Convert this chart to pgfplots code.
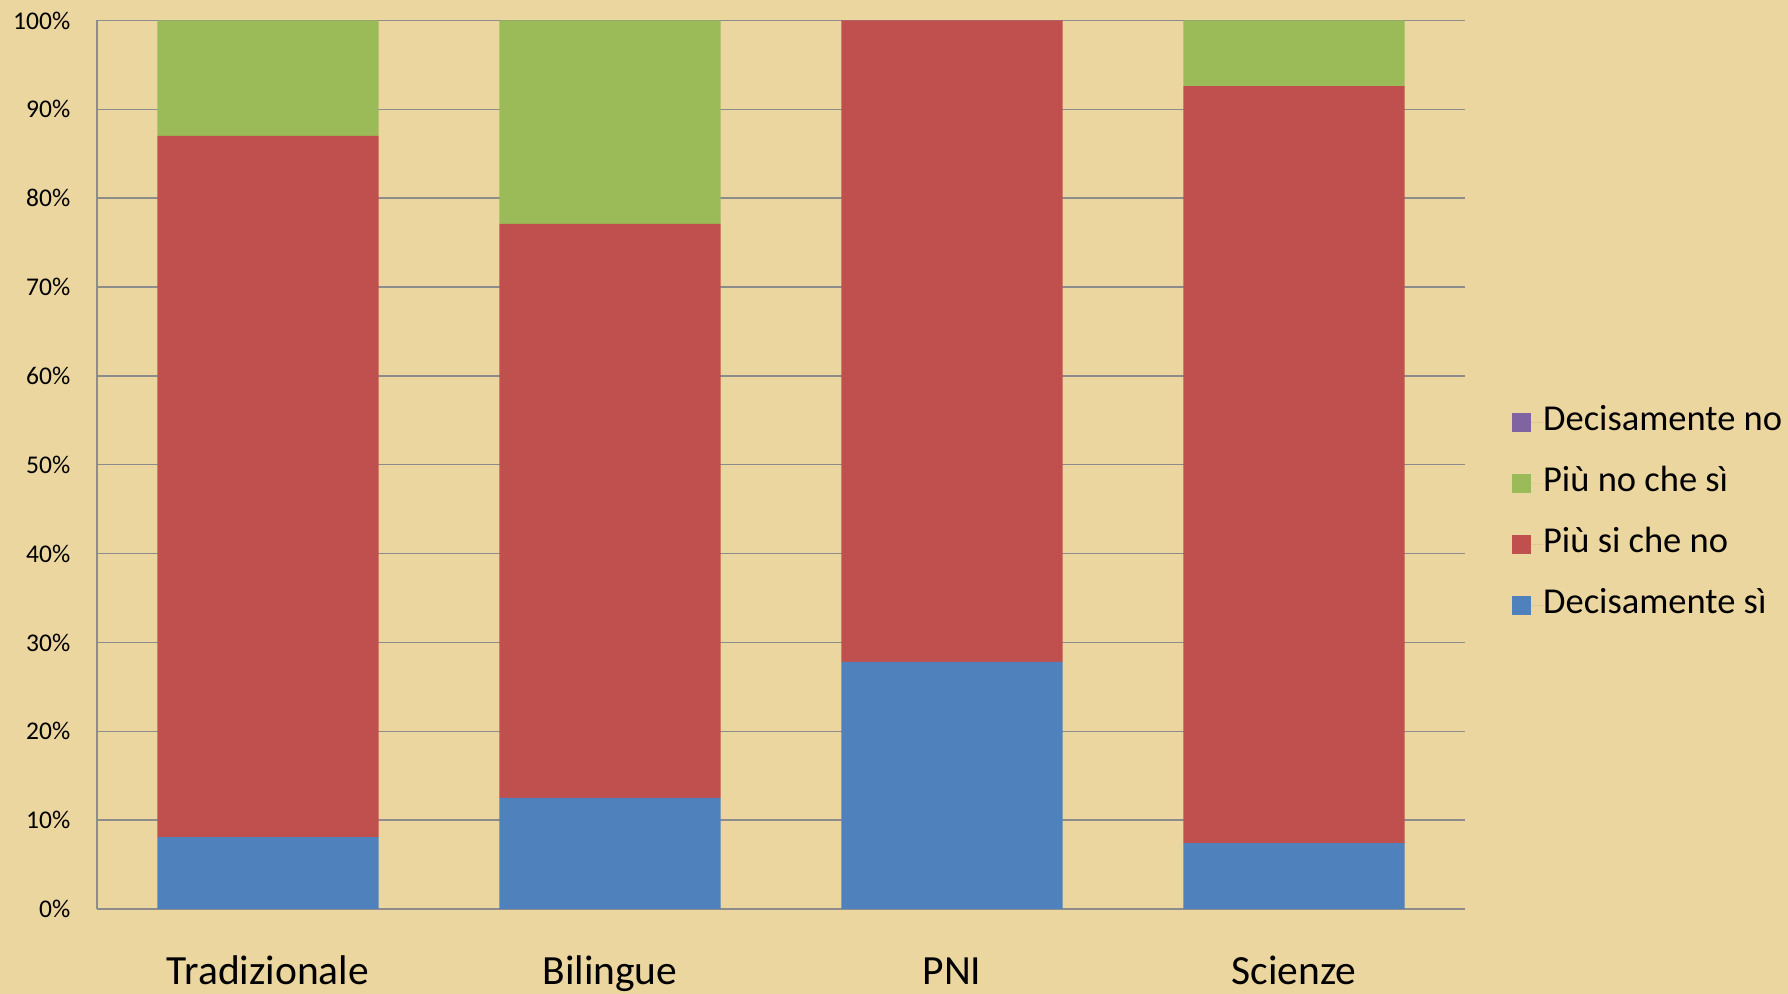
\documentclass[border=0pt]{standalone}
\usepackage{fontspec}
\setmainfont{Carlito}
\usepackage{pgfplots}
\pgfplotsset{compat=1.18}

\definecolor{papyrus}{RGB}{236,214,160}
\definecolor{gridgray}{RGB}{140,140,140}
\definecolor{cblue}{RGB}{79,129,189}
\definecolor{cred}{RGB}{192,80,77}
\definecolor{cgreen}{RGB}{155,187,89}
\definecolor{cpurple}{RGB}{128,100,162}

\begin{document}
\begin{tikzpicture}
% background (1px = 0.4pt)
\fill[papyrus] (-38.8pt,-34pt) rectangle (676.4pt,363.6pt);
\begin{axis}[
    at={(0pt,0pt)}, anchor=south west,
    scale only axis,
    width=547.2pt, height=355.4pt,
    ybar stacked,
    bar width=88.5pt,
    xmin=-0.5, xmax=3.5,
    ymin=0, ymax=100,
    xtick={0,1,2,3},
    xticklabels={Tradizionale,Bilingue,PNI,Scienze},
    ytick={0,10,...,100},
    yticklabel={\pgfmathprintnumber{\tick}\%},
    /pgf/number format/assume math mode=true,
    axis x line*=bottom,
    axis y line*=left,
    axis line style={gridgray, line width=0.6pt, -},
    ymajorgrids,
    grid style={gridgray, line width=0.6pt},
    major tick length=0pt,
    tick style={draw=none},
    xticklabel style={font=\fontsize{16.6}{18}\selectfont, anchor=base, yshift=-30.4pt},
    yticklabel style={font=\fontsize{10.2}{12}\selectfont, anchor=east, inner sep=0pt, xshift=-10.5pt},
    legend style={draw=none, fill=none, at={(1.0286,0.445)}, anchor=west,
        font=\fontsize{14.6}{16}\selectfont, row sep=11.4pt,
        nodes={inner sep=0pt, text height=10pt, text depth=3pt}},
    legend cell align=left,
    reverse legend,
    legend image code/.code={\fill[#1] (0pt,-3.8pt) rectangle (7.6pt,3.8pt); \path (0pt,0pt) -- (12.4pt,0pt);},
]
\addplot[fill=cblue, draw=none] coordinates {(0,8.1) (1,12.5) (2,27.8) (3,7.4)};
\addplot[fill=cred, draw=none] coordinates {(0,78.9) (1,64.6) (2,72.2) (3,85.2)};
\addplot[fill=cgreen, draw=none] coordinates {(0,13.0) (1,22.9) (2,0) (3,7.4)};
\addplot[fill=cpurple, draw=none] coordinates {(0,0) (1,0) (2,0) (3,0)};
\legend{Decisamente sì, Più si che no, Più no che sì, Decisamente no}
\end{axis}
\pgfresetboundingbox
\path[use as bounding box] (-38.8pt,-34pt) rectangle (676.4pt,363.6pt);
\end{tikzpicture}
\end{document}
